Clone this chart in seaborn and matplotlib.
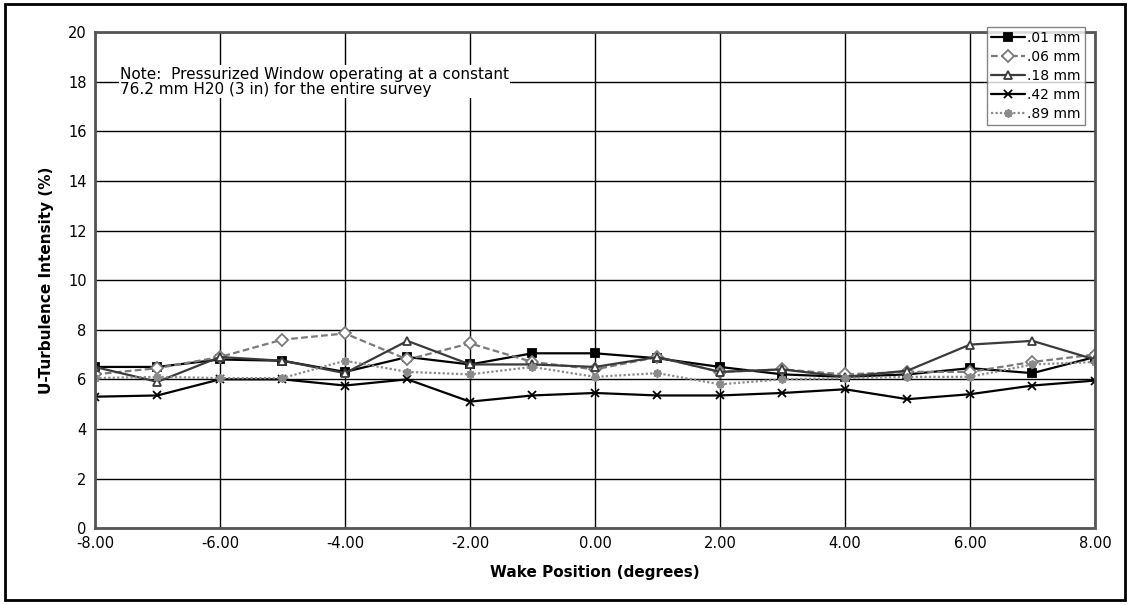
import pandas as pd
import matplotlib.pyplot as plt
import matplotlib.patches as mpatches
import seaborn as sns

# --- Data ---
wake_pos = [-8, -7, -6, -5, -4, -3, -2, -1, 0, 1, 2, 3, 4, 5, 6, 7, 8]
turb_01 = [6.5, 6.5, 6.8, 6.75, 6.3, 6.9, 6.6, 7.05, 7.05, 6.85, 6.5, 6.2, 6.1, 6.2, 6.45, 6.25, 6.9]
turb_06 = [6.2, 6.45, 6.9, 7.6, 7.85, 6.8, 7.45, 6.7, 6.4, 6.9, 6.3, 6.4, 6.2, 6.3, 6.3, 6.7, 7.0]
turb_18 = [6.5, 5.9, 6.9, 6.75, 6.25, 7.55, 6.6, 6.6, 6.5, 6.9, 6.3, 6.4, 6.1, 6.35, 7.4, 7.55, 6.8]
turb_42 = [5.3, 5.35, 6.0, 6.0, 5.75, 6.0, 5.1, 5.35, 5.45, 5.35, 5.35, 5.45, 5.6, 5.2, 5.4, 5.75, 5.95]
turb_89 = [6.05, 6.1, 6.05, 6.05, 6.75, 6.3, 6.2, 6.5, 6.1, 6.25, 5.8, 6.0, 6.05, 6.1, 6.1, 6.6, 6.7]
roughness = ['.01 mm', '.06 mm', '.18 mm', '.42 mm', '.89 mm']

series = [turb_01, turb_06, turb_18, turb_42, turb_89]
colors = ['black', '#7a7a7a', '#3a3a3a', 'black', '#8a8a8a']
marks = ['s', 'D', '^', 'x', (8, 2, 0)]
styles = ['-', (0, (3, 1.5)), '-', '-', (0, (1, 1))]
faces = ['black', 'white', 'white', 'black', '#8a8a8a']

sns.set_style('white')
plt.rcParams['font.family'] = ['DejaVu Sans']
plt.rcParams['text.color'] = 'black'
plt.rcParams['axes.labelcolor'] = 'black'
plt.rcParams['xtick.color'] = 'black'
plt.rcParams['ytick.color'] = 'black'

fig = plt.figure(figsize=(11.3, 6.05), dpi=100)
ax = fig.add_axes([0.084, 0.127, 0.885, 0.820])

for name, vals, c, m, ls, fc in zip(roughness, series, colors, marks, styles, faces):
    sdf = pd.DataFrame({'pos': wake_pos, 'turb': vals})
    sns.lineplot(data=sdf, x='pos', y='turb', color=c, marker=m, linestyle=ls,
                 linewidth=1.6, markersize=6, markerfacecolor=fc, markeredgecolor=c,
                 markeredgewidth=1.3, label=name, ax=ax)

ax.set_xlim(-8, 8)
ax.set_ylim(0, 20)
ax.set_xticks(range(-8, 9, 2))
ax.set_xticklabels([f'{v:.2f}' for v in range(-8, 9, 2)])
ax.set_yticks(range(0, 21, 2))
ax.grid(True, color='black', linewidth=1)
ax.set_axisbelow(True)
ax.tick_params(axis='both', labelsize=10.5, length=0, pad=6)
for sp in ax.spines.values():
    sp.set_linestyle((0, (1, 1)))
    sp.set_color('#555555')
    sp.set_linewidth(2)

ax.set_xlabel('Wake Position (degrees)', fontsize=11, fontweight='bold', labelpad=10)
ax.set_ylabel('U-Turbulence Intensity (%)', fontsize=11, fontweight='bold', labelpad=10)

ax.text(-7.6, 18.0, 'Note:  Pressurized Window operating at a constant\n'
        '76.2 mm H20 (3 in) for the entire survey',
        fontsize=11, va='center', ha='left', linespacing=1.0,
        bbox=dict(facecolor='white', edgecolor='none', pad=1))

leg = ax.legend(loc='upper right', bbox_to_anchor=(0.99, 1.01),
                fontsize=10, frameon=True, fancybox=False, edgecolor='#666666',
                handlelength=2.4, handletextpad=0.2, labelspacing=0.35,
                borderpad=0.3, borderaxespad=0)
leg.get_frame().set_linewidth(1)

# outer border of the chart
fig.patches.append(mpatches.Rectangle((0.004, 0.008), 0.992, 0.985, transform=fig.transFigure,
                                      fill=False, edgecolor='black', linewidth=2))

plt.savefig('out.png', dpi=100)
